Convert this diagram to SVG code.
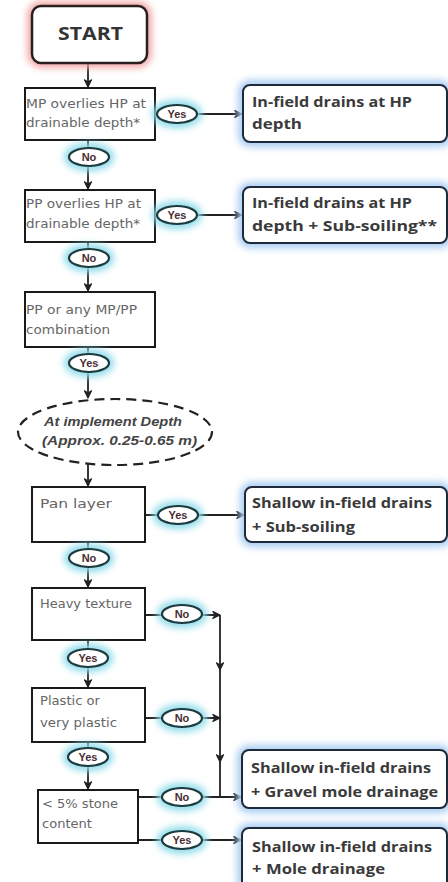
<svg xmlns="http://www.w3.org/2000/svg" width="448" height="882" viewBox="0 0 448 882">
<defs>
<filter id="blur" x="-40%" y="-80%" width="180%" height="260%"><feGaussianBlur stdDeviation="3.5"/></filter>
<marker id="arr" viewBox="0 0 10 10" refX="9" refY="5" markerWidth="9" markerHeight="9" markerUnits="userSpaceOnUse" orient="auto"><path d="M1,1 L9,5 L1,9 L3.5,5 Z" fill="#222" stroke="#222" stroke-width="1.2" stroke-linejoin="round"/></marker>
<style>
.dec{fill:#fff;stroke:#1a1a1a;stroke-width:2}
.res{fill:#fff;stroke:#1e2a3a;stroke-width:2}
.gb{fill:none;stroke:#a9cdf2;stroke-width:10;filter:url(#blur)}
.gc{fill:none;stroke:#8fdcea;stroke-width:10;filter:url(#blur)}
.gr{fill:none;stroke:#f2a2a2;stroke-width:9;filter:url(#blur)}
.lab{fill:#fff;stroke:#1d3b3f;stroke-width:2.2}
.con{fill:none;stroke:#222;stroke-width:1.8}
.dt{font-family:"DejaVu Sans",sans-serif;font-size:12px;fill:#666}
.rt{font-family:"Open Sans","Liberation Sans",sans-serif;font-size:15px;font-weight:700;fill:#3a3a3a}
.lt{font-family:"Liberation Sans",sans-serif;font-size:11px;font-weight:700;fill:#4a2d33;text-anchor:middle}
.it{font-family:"Liberation Sans",sans-serif;font-size:13px;font-weight:700;font-style:italic;fill:#444}
</style>
</defs>

<g id="connectors">
<line class="con" x1="88" y1="63" x2="88" y2="87" marker-end="url(#arr)"/>
<line class="con" x1="155" y1="114" x2="242" y2="114" marker-end="url(#arr)"/>
<line class="con" x1="88" y1="140" x2="88" y2="189" marker-end="url(#arr)"/>
<line class="con" x1="155" y1="215" x2="242" y2="215" marker-end="url(#arr)"/>
<line class="con" x1="88" y1="242" x2="88" y2="291" marker-end="url(#arr)"/>
<line class="con" x1="88" y1="347" x2="88" y2="398" marker-end="url(#arr)"/>
<line class="con" x1="88" y1="464" x2="88" y2="486" marker-end="url(#arr)"/>
<line class="con" x1="145" y1="515" x2="244" y2="515" marker-end="url(#arr)"/>
<line class="con" x1="88" y1="542" x2="88" y2="587" marker-end="url(#arr)"/>
<line class="con" x1="145" y1="615" x2="220" y2="615" marker-end="url(#arr)"/>
<line class="con" x1="88" y1="640" x2="88" y2="687" marker-end="url(#arr)"/>
<line class="con" x1="145" y1="718" x2="220" y2="718" marker-end="url(#arr)"/>
<line class="con" x1="88" y1="742" x2="88" y2="789" marker-end="url(#arr)"/>
<line class="con" x1="220" y1="615" x2="220" y2="670" marker-end="url(#arr)"/>
<line class="con" x1="220" y1="670" x2="220" y2="762" marker-end="url(#arr)"/>
<line class="con" x1="220" y1="762" x2="220" y2="796"/>
<line class="con" x1="138" y1="797" x2="241" y2="797" marker-end="url(#arr)"/>
<line class="con" x1="138" y1="840" x2="241" y2="840" marker-end="url(#arr)"/>
</g>

<g id="start">
<rect class="gr" x="32" y="6" width="115" height="57" rx="9"/>
<rect x="32" y="6" width="115" height="57" rx="9" fill="#fff" stroke="#2a1f1f" stroke-width="2.5"/>
<text x="58" y="40" textLength="65" lengthAdjust="spacingAndGlyphs" font-family="Open Sans,Liberation Sans,sans-serif" font-size="17" font-weight="700" fill="#333">START</text>
</g>

<g id="q1">
<rect class="dec" x="25" y="88" width="130" height="52"/>
<text class="dt" x="26" y="108" textLength="120" lengthAdjust="spacingAndGlyphs">MP overlies HP at</text>
<text class="dt" x="26" y="127" textLength="114" lengthAdjust="spacingAndGlyphs">drainable depth*</text>
</g>
<g id="q2">
<rect class="dec" x="25" y="190" width="130" height="52"/>
<text class="dt" x="26" y="208" textLength="115" lengthAdjust="spacingAndGlyphs">PP overlies HP at</text>
<text class="dt" x="26" y="228" textLength="114" lengthAdjust="spacingAndGlyphs">drainable depth*</text>
</g>
<g id="q3">
<rect class="dec" x="25" y="292" width="130" height="55"/>
<text class="dt" x="26" y="314" textLength="111" lengthAdjust="spacingAndGlyphs">PP or any MP/PP</text>
<text class="dt" x="26" y="334" textLength="84" lengthAdjust="spacingAndGlyphs">combination</text>
</g>
<g id="depth">
<ellipse cx="115" cy="432" rx="97" ry="33" fill="#fff" stroke="#222" stroke-width="2.2" stroke-dasharray="10,6"/>
<text class="it" x="44" y="426" textLength="138" lengthAdjust="spacingAndGlyphs">At implement Depth</text>
<text class="it" x="42" y="445" textLength="155" lengthAdjust="spacingAndGlyphs">(Approx. 0.25-0.65 m)</text>
</g>
<g id="q4">
<rect class="dec" x="32" y="487" width="113" height="55"/>
<text class="dt" x="40" y="508" textLength="72" lengthAdjust="spacingAndGlyphs">Pan layer</text>
</g>
<g id="q5">
<rect class="dec" x="32" y="588" width="113" height="52"/>
<text class="dt" x="40" y="608" textLength="92" lengthAdjust="spacingAndGlyphs">Heavy texture</text>
</g>
<g id="q6">
<rect class="dec" x="32" y="688" width="113" height="54"/>
<text class="dt" x="40" y="705" textLength="60" lengthAdjust="spacingAndGlyphs">Plastic or</text>
<text class="dt" x="40" y="727" textLength="77" lengthAdjust="spacingAndGlyphs">very plastic</text>
</g>
<g id="q7">
<rect class="dec" x="38" y="790" width="100" height="53"/>
<text class="dt" x="42" y="808" textLength="76" lengthAdjust="spacingAndGlyphs">&lt; 5% stone</text>
<text class="dt" x="42" y="828" textLength="50" lengthAdjust="spacingAndGlyphs">content</text>
</g>

<g id="r1">
<rect class="gb" x="243" y="85" width="204" height="57" rx="7"/>
<rect class="res" x="243" y="85" width="204" height="57" rx="7"/>
<text class="rt" x="252" y="107" textLength="160" lengthAdjust="spacingAndGlyphs">In-field drains at HP</text>
<text class="rt" x="252" y="129" textLength="50" lengthAdjust="spacingAndGlyphs">depth</text>
</g>
<g id="r2">
<rect class="gb" x="243" y="187" width="204" height="56" rx="7"/>
<rect class="res" x="243" y="187" width="204" height="56" rx="7"/>
<text class="rt" x="252" y="208" textLength="160" lengthAdjust="spacingAndGlyphs">In-field drains at HP</text>
<text class="rt" x="252" y="231" textLength="185" lengthAdjust="spacingAndGlyphs">depth + Sub-soiling**</text>
</g>
<g id="r3">
<rect class="gb" x="245" y="487" width="202" height="55" rx="7"/>
<rect class="res" x="245" y="487" width="202" height="55" rx="7"/>
<text class="rt" x="252" y="508" textLength="180" lengthAdjust="spacingAndGlyphs">Shallow in-field drains</text>
<text class="rt" x="252" y="532" textLength="103" lengthAdjust="spacingAndGlyphs">+ Sub-soiling</text>
</g>
<g id="r4">
<rect class="gb" x="242" y="750" width="205" height="58" rx="7"/>
<rect class="res" x="242" y="750" width="205" height="58" rx="7"/>
<text class="rt" x="251" y="773" textLength="180" lengthAdjust="spacingAndGlyphs">Shallow in-field drains</text>
<text class="rt" x="251" y="797" textLength="187" lengthAdjust="spacingAndGlyphs">+ Gravel mole drainage</text>
</g>
<g id="r5">
<rect class="gb" x="242" y="828" width="205" height="60" rx="7"/>
<rect class="res" x="242" y="828" width="205" height="60" rx="7"/>
<text class="rt" x="252" y="852" textLength="180" lengthAdjust="spacingAndGlyphs">Shallow in-field drains</text>
<text class="rt" x="252" y="874" textLength="133" lengthAdjust="spacingAndGlyphs">+ Mole drainage</text>
</g>

<g id="l-yes1"><ellipse class="gc" cx="177" cy="114" rx="20" ry="9"/><ellipse class="lab" cx="177" cy="114" rx="20" ry="9"/><text class="lt" x="177" y="118">Yes</text></g>
<g id="l-no1"><ellipse class="gc" cx="89" cy="157" rx="20" ry="9"/><ellipse class="lab" cx="89" cy="157" rx="20" ry="9"/><text class="lt" x="89" y="161">No</text></g>
<g id="l-yes2"><ellipse class="gc" cx="177" cy="215" rx="20" ry="9"/><ellipse class="lab" cx="177" cy="215" rx="20" ry="9"/><text class="lt" x="177" y="219">Yes</text></g>
<g id="l-no2"><ellipse class="gc" cx="89" cy="258" rx="20" ry="9"/><ellipse class="lab" cx="89" cy="258" rx="20" ry="9"/><text class="lt" x="89" y="262">No</text></g>
<g id="l-yes3"><ellipse class="gc" cx="89" cy="363" rx="20" ry="9"/><ellipse class="lab" cx="89" cy="363" rx="20" ry="9"/><text class="lt" x="89" y="367">Yes</text></g>
<g id="l-yes4"><ellipse class="gc" cx="178" cy="515" rx="20" ry="9"/><ellipse class="lab" cx="178" cy="515" rx="20" ry="9"/><text class="lt" x="178" y="519">Yes</text></g>
<g id="l-no4"><ellipse class="gc" cx="89" cy="558" rx="20" ry="9"/><ellipse class="lab" cx="89" cy="558" rx="20" ry="9"/><text class="lt" x="89" y="562">No</text></g>
<g id="l-no5"><ellipse class="gc" cx="182" cy="614" rx="20" ry="9"/><ellipse class="lab" cx="182" cy="614" rx="20" ry="9"/><text class="lt" x="182" y="618">No</text></g>
<g id="l-yes5"><ellipse class="gc" cx="88" cy="658" rx="20" ry="9"/><ellipse class="lab" cx="88" cy="658" rx="20" ry="9"/><text class="lt" x="88" y="662">Yes</text></g>
<g id="l-no6"><ellipse class="gc" cx="182" cy="718" rx="20" ry="9"/><ellipse class="lab" cx="182" cy="718" rx="20" ry="9"/><text class="lt" x="182" y="722">No</text></g>
<g id="l-yes6"><ellipse class="gc" cx="88" cy="757" rx="20" ry="9"/><ellipse class="lab" cx="88" cy="757" rx="20" ry="9"/><text class="lt" x="88" y="761">Yes</text></g>
<g id="l-no7"><ellipse class="gc" cx="182" cy="797" rx="20" ry="9"/><ellipse class="lab" cx="182" cy="797" rx="20" ry="9"/><text class="lt" x="182" y="801">No</text></g>
<g id="l-yes7"><ellipse class="gc" cx="182" cy="840" rx="20" ry="9"/><ellipse class="lab" cx="182" cy="840" rx="20" ry="9"/><text class="lt" x="182" y="844">Yes</text></g>
</svg>
